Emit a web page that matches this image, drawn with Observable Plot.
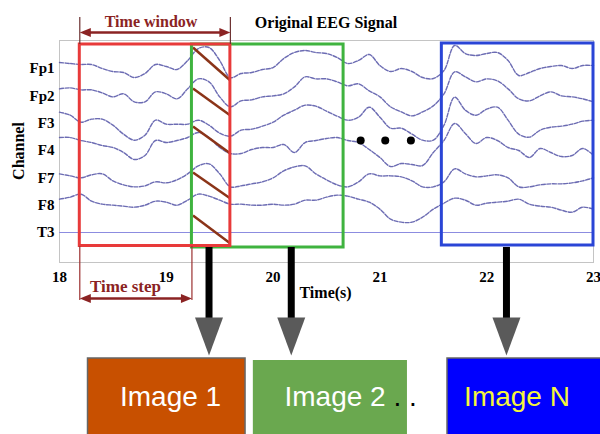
<!DOCTYPE html>
<html><head><meta charset="utf-8">
<script src="https://cdn.jsdelivr.net/npm/d3@7"></script>
<script src="https://cdn.jsdelivr.net/npm/@observablehq/plot@0.6"></script>
<style>
html,body{margin:0;padding:0;background:#fff;overflow:hidden;}
#chart{width:600px;height:434px;}
</style></head><body><div id="chart"></div>
<script>
// ---- data ----
const times = [18.0,18.1,18.2,18.3,18.4,18.5,18.6,18.7,18.8,18.9,19.0,19.1,19.2,19.3,19.4,19.5,19.6,19.7,19.8,19.9,20.0,20.1,20.2,20.3,20.4,20.5,20.6,20.7,20.8,20.9,21.0,21.1,21.2,21.3,21.4,21.5,21.6,21.7,21.8,21.9,22.0,22.1,22.2,22.3,22.4,22.5,22.6,22.7,22.8,22.9,23.0];
const channels = ["Fp1","Fp2","F3","F4","F7","F8","T3"];
const fp1 = [6,5,4,4,0,-3,-4,-9,-5,4,2,-1,8,20,21,8,-9,-5,-4,-1,1,10,16,18,16,15,11,5,8,14,3,-3,0,-3,-9,-10,-2,23,15,13,15,16,8,-7,-4,0,2,3,0,3,3];
const fp2 = [7,8,6,6,3,-1,2,-6,-6,4,2,-3,7,17,14,-1,-11,-5,-4,-1,0,2,9,19,17,17,14,10,12,5,-1,-11,-16,-20,-16,-10,2,24,19,14,17,15,7,-3,-5,0,4,0,-1,-3,-6];
const f3  = [11,8,1,4,4,-2,-11,-17,-12,3,-1,-1,-1,3,-2,-10,-13,-7,-6,-3,1,8,13,18,17,12,7,3,6,16,6,-5,-5,-11,-17,-17,-2,26,13,8,14,16,3,-11,-14,-7,-4,-3,-1,2,3];
const f4  = [13,13,10,8,5,3,-2,-9,-5,10,8,10,13,18,13,3,-3,-3,1,3,3,6,-2,8,10,12,13,10,8,1,-7,-16,-13,-14,-15,-2,10,27,17,7,13,10,3,0,-7,2,-2,-6,-5,2,-5];
const f7  = [4,2,0,3,4,-3,-7,-9,-8,-4,-5,-2,4,12,14,4,-9,-8,-6,-4,0,7,11,12,4,-2,-7,-9,-4,4,2,2,1,-3,-9,-9,-4,9,4,1,2,3,0,-9,-9,-7,-6,-6,-5,-3,0];
const f8  = [6,8,11,4,1,0,-1,-2,0,4,3,0,5,11,9,5,1,1,0,0,1,0,1,5,5,8,10,9,6,3,-4,-14,-17,-17,-12,-4,2,7,5,0,2,3,4,6,1,-1,-2,-5,-7,-2,-4];
const t3Times = [18, 23];
const t3 = [0, 0];
const xTicks = [18,19,20,21,22,23];

// annotation values (time in s, level in channel units)
const winStart = 18.19, winEnd = 19.6, stepEnd = 19.24;
const greenEnd = 20.66, blueStart = 21.58, blueEnd = 23.0;
const dotTimes = [20.82, 21.05, 21.29];
const arrowTimes = [19.40, 20.17, 22.185];
const imageNames = ["Image 1", "Image 2", "Image N"];
const imageStart = [18.267, 19.815, 21.633];
const imageEnd = [19.742, 21.258, 23.2];
const imageCenter = [19.04, 20.58, 22.284];

// ---- build ----
const SP = 27.33;
const base = i => (6 - i) * SP;
const series = [fp1, fp2, f3, f4, f7, f8];
const rows = [];
series.forEach((arr, i) => arr.forEach((v, j) => rows.push({t: times[j], ch: channels[i], v: base(i) + v})));
const t3rows = t3Times.map((t, j) => ({t, v: base(6) + t3[j]}));
const tickVals = channels.map((c, i) => base(i));
const nameOf = d => channels[tickVals.findIndex(v => Math.abs(v - d) < 0.01)];

const hatch = [
  {x1: 19.25, y1: 185, x2: winEnd, y2: 152},
  {x1: 19.25, y1: 144, x2: winEnd, y2: 117},
  {x1: 19.25, y1: 106, x2: winEnd, y2: 79},
  {x1: 19.25, y1: 60, x2: winEnd, y2: 34},
  {x1: 19.25, y1: 17, x2: winEnd, y2: -11}
];

const triDown = {draw(c){c.moveTo(-14,-19);c.lineTo(14,-19);c.lineTo(0,19);c.closePath();}};
const headL = {draw(c){c.moveTo(0,0);c.lineTo(11,-4.5);c.lineTo(11,4.5);c.closePath();}};
const headR = {draw(c){c.moveTo(0,0);c.lineTo(-11,-4.5);c.lineTo(-11,4.5);c.closePath();}};

const serif = "Liberation Serif, Times New Roman, serif";
const sans = "Liberation Sans, Arial, sans-serif";
const dark = "#8b2323";

const chart = Plot.plot({
  width: 600, height: 434,
  marginLeft: 59, marginRight: 7, marginTop: 40, marginBottom: 172,
  x: {domain: [18, 23], axis: null},
  y: {domain: [-30, 192], axis: null},
  style: {background: "#fff", color: "#000", fontFamily: serif, overflow: "visible"},
  marks: [
    Plot.frame({stroke: "#c4c4c4"}),
    Plot.axisX({ticks: xTicks, tickFormat: "d", tickSize: 0, tickPadding: 9, fontSize: 15, fontWeight: "bold", fontFamily: serif, label: null}),
    Plot.axisY({ticks: tickVals, tickFormat: nameOf, tickSize: 0, tickPadding: 5, fontSize: 15, fontWeight: "bold", fontFamily: serif, label: null}),
    Plot.line(t3rows, {x: "t", y: "v", stroke: "#8c8ce0", strokeWidth: 1}),
    Plot.line(rows, {x: "t", y: "v", z: "ch", stroke: "#5252a6", strokeWidth: 1.4, strokeDasharray: "4,1.6", strokeOpacity: 0.85, curve: "catmull-rom"}),
    Plot.link(hatch, {x1: "x1", y1: "y1", x2: "x2", y2: "y2", stroke: "#8b3418", strokeWidth: 2.5}),
    Plot.rect([0], {x1: stepEnd, x2: greenEnd, y1: -15, y2: 188, fill: "none", stroke: "#3fb33f", strokeWidth: 3}),
    Plot.rect([0], {x1: winStart, x2: winEnd, y1: -13.5, y2: 188, fill: "none", stroke: "#e83a3a", strokeWidth: 3}),
    Plot.rect([0], {x1: blueStart, x2: blueEnd, y1: -13, y2: 189, fill: "none", stroke: "#2a45d6", strokeWidth: 3}),
    Plot.dot(dotTimes, {x: d => d, y: 92, r: 4, fill: "#000", stroke: "none"}),
    // time window annotation
    Plot.ruleX([winStart, winEnd], {y1: 188, y2: 215, stroke: "#6b3030", strokeWidth: 1.2}),
    Plot.ruleY([200], {x1: winStart + 0.05, x2: winEnd - 0.05, stroke: dark, strokeWidth: 2.5}),
    Plot.dot([winStart], {x: d => d, y: 200, symbol: headL, fill: dark, stroke: "none"}),
    Plot.dot([winEnd], {x: d => d, y: 200, symbol: headR, fill: dark, stroke: "none"}),
    // time step annotation
    Plot.ruleX([winStart, stepEnd], {y1: -14, y2: -68, stroke: "#9b3030", strokeWidth: 1.2}),
    Plot.ruleY([-66], {x1: winStart + 0.05, x2: stepEnd - 0.05, stroke: dark, strokeWidth: 2.5}),
    Plot.dot([winStart], {x: d => d, y: -66, symbol: headL, fill: dark, stroke: "none"}),
    Plot.dot([stepEnd], {x: d => d, y: -66, symbol: headR, fill: dark, stroke: "none"}),
    // texts
    Plot.text(["Time window"], {x: 18.857, y: 211, text: d => d, fontSize: 16, fontWeight: "bold", fontFamily: serif, fill: dark}),
    Plot.text(["Time step"], {x: 18.618, y: -54, text: d => d, fontSize: 17, fontWeight: "bold", fontFamily: serif, fill: dark}),
    Plot.text(["Original EEG Signal"], {x: 20.495, y: 210, text: d => d, fontSize: 16, fontWeight: "bold", fontFamily: serif, fill: "#000"}),
    Plot.text(["Time(s)"], {x: 20.247, y: -60, text: d => d, textAnchor: "start", fontSize: 16, fontWeight: "bold", fontFamily: serif, fill: "#000"}),
    Plot.text(["Channel"], {x: 17.616, y: 81.5, text: d => d, rotate: -90, fontSize: 16, fontWeight: "bold", fontFamily: serif, fill: "#000"}),
    // arrows to images
    Plot.ruleX(arrowTimes, {y1: -15, y2: -88, stroke: "#000", strokeWidth: 7}),
    Plot.dot(arrowTimes, {x: d => d, y: -104, symbol: triDown, fill: "#5a5a5a", stroke: "none"}),
    // images
    Plot.rect([0], {x1: imageStart[0], x2: imageEnd[0], y1: -210, y2: -126, fill: "#c85000", stroke: "#666", strokeWidth: 1.5}),
    Plot.rect([0], {x1: imageStart[1], x2: imageEnd[1], y1: -210, y2: -128, fill: "#6aa84f"}),
    Plot.rect([0], {x1: imageStart[2], x2: imageEnd[2], y1: -210, y2: -126, fill: "#0000ff", stroke: "#666", strokeWidth: 1.5}),
    Plot.text(imageNames.slice(0, 2), {x: (d, i) => imageCenter[i], y: -165, text: d => d, fontSize: 28, fontFamily: sans, fill: "#fff"}),
    Plot.text([imageNames[2]], {x: imageCenter[2], y: -165, text: d => d, fontSize: 28, fontFamily: sans, fill: "#f5f53c"}),
    Plot.text([". ."], {x: 21.127, y: -165, text: d => d, textAnchor: "start", fontSize: 28, fontFamily: sans, fill: "#000"})
  ]
});
document.getElementById("chart").appendChild(chart);
</script></body></html>
